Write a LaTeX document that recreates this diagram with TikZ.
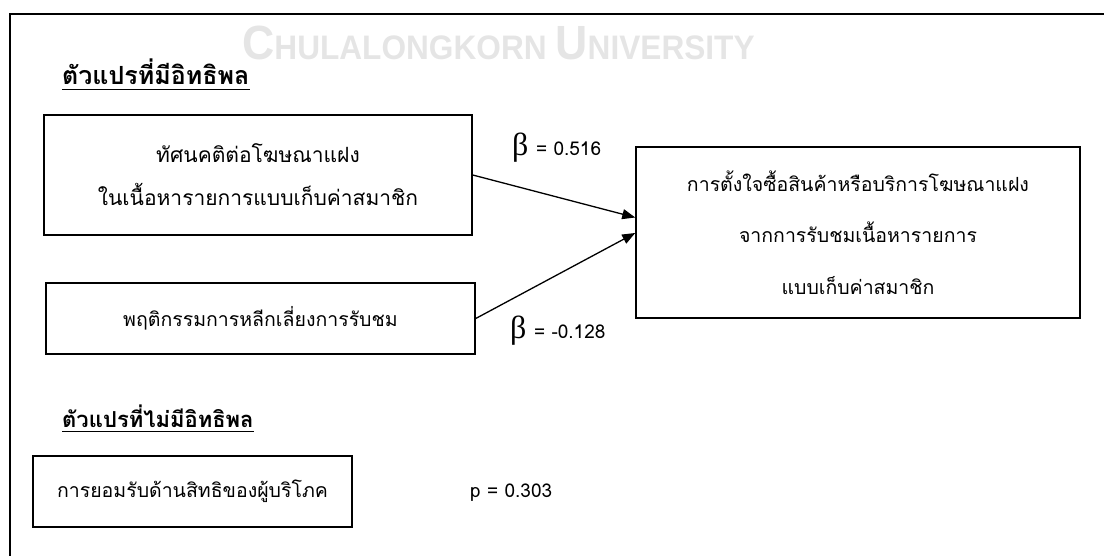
\documentclass[tikz,border=0pt]{standalone}
\usepackage{fontspec}
\usetikzlibrary{arrows.meta}
\newfontfamily\thaifont[Script=Thai]{Loma}
\newfontfamily\wmfont{Liberation Sans}
\newfontfamily\grkfont{Liberation Serif}
\begin{document}
\begin{tikzpicture}[x=1pt,y=-1pt,
  varbox/.style={draw=black,line width=1.5pt,inner sep=0pt,align=center,font=\thaifont\fontsize{19.5}{43}\selectfont},
  heading/.style={inner sep=0pt,anchor=base west,font=\thaifont\bfseries\fontsize{25}{28}\selectfont},
  coef/.style={inner sep=0pt,anchor=base west,font=\thaifont\fontsize{19}{22}\selectfont},
  link/.style={line width=1.3pt,-{Triangle[length=13pt,width=10pt]}}]
\useasboundingbox (0,0) rectangle (1104,556);
% watermark
\node[inner sep=0pt,anchor=base west,text=black!10,font=\wmfont\bfseries] (wm) at (242,60)
  {\scalebox{0.93}[1]{\fontsize{48}{48}\selectfont C\fontsize{34}{34}\selectfont HULALONGKORN \fontsize{48}{48}\selectfont U\fontsize{34}{34}\selectfont NIVERSITY}};
% frame
\coordinate (fb) at (10,556);
\coordinate (fc) at (10,14);
\coordinate (fr) at (1104,14);
\draw[line width=2pt] (fb) -- (fc) -- (fr);
% headings
\node[heading] (h1) at (62,85) {ตัวแปรที่มีอิทธิพล};
\draw[line width=1.3pt] ([yshift=-4.5pt]h1.base west) -- ([yshift=-4.5pt]h1.base east);
\node[heading,font=\thaifont\bfseries\fontsize{22}{26}\selectfont] (h2) at (62,427) {ตัวแปรที่ไม่มีอิทธิพล};
\draw[line width=1.3pt] ([yshift=-4.5pt]h2.base west) -- ([yshift=-4.5pt]h2.base east);
% boxes
\node[varbox,minimum width=428pt,minimum height=120pt,font=\thaifont\fontsize{21}{43}\selectfont] (b1) at (258,175)
  {ทัศนคติต่อโฆษณาแฝง\\ในเนื้อหารายการแบบเก็บค่าสมาชิก};
\node[varbox,minimum width=429pt,minimum height=71pt] (b2) at (260.5,318.5)
  {พฤติกรรมการหลีกเลี่ยงการรับชม};
\node[varbox,minimum width=319pt,minimum height=71pt] (b3) at (192.5,491.5)
  {การยอมรับด้านสิทธิของผู้บริโภค};
\node[varbox,minimum width=444pt,minimum height=171pt,font=\thaifont\fontsize{19.5}{51.5}\selectfont] (t) at (858,232.5)
  {การตั้งใจซื้อสินค้าหรือบริการโฆษณาแฝง\\จากการรับชมเนื้อหารายการ\\แบบเก็บค่าสมาชิก};
% arrows
\draw[link] (b1.east) -- ([yshift=15pt]t.west);
\draw[link] (b2.east) -- ([yshift=-0.5pt]t.west);
% coefficients
\node[coef] (c1) at (512,156) {{\grkfont\fontsize{32}{32}\selectfont β}\hspace{0.4em}= 0.516};
\node[coef] (c2) at (510,338) {{\grkfont\fontsize{32}{32}\selectfont β}\hspace{0.4em}= -0.128};
\node[coef] (p) at (470,497) {p = 0.303};
\end{tikzpicture}
\end{document}
